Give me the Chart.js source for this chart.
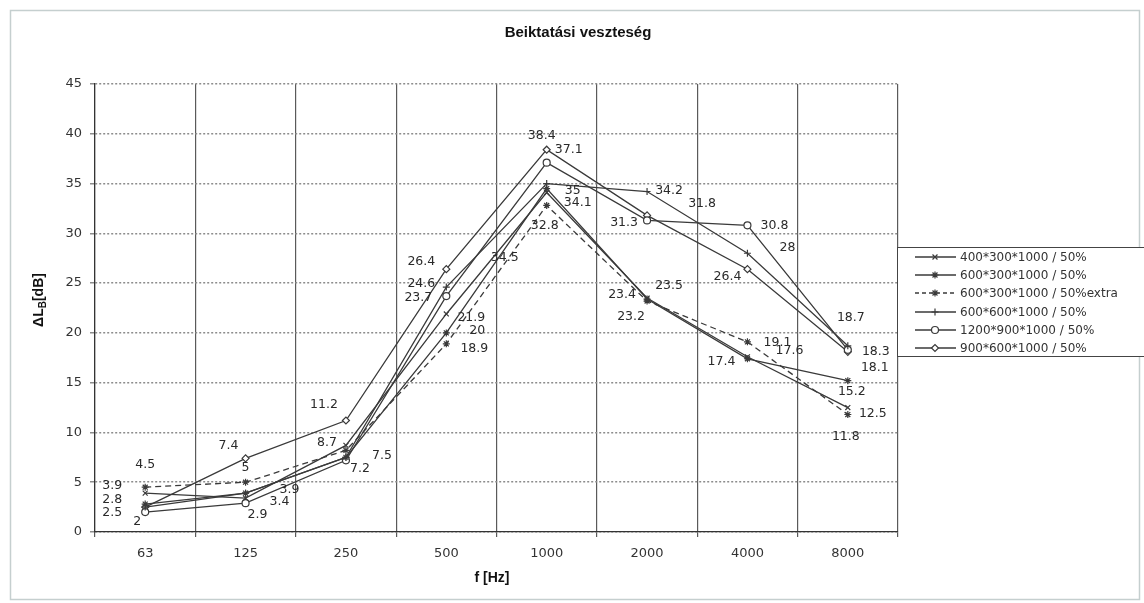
<!DOCTYPE html>
<html><head><meta charset="utf-8">
<script src="https://cdn.jsdelivr.net/npm/chart.js@4.4.1/dist/chart.umd.min.js"></script>
<style>html,body{margin:0;padding:0;background:#fff}canvas{display:block}</style>
</head><body>
<canvas id="c" width="1144" height="603"></canvas>
<script>
// ---- data ----
const categories = ['63','125','250','500','1000','2000','4000','8000'];
const seriesNames = ['400*300*1000 / 50%','600*300*1000 / 50%','600*300*1000 / 50%extra','600*600*1000 / 50%','1200*900*1000 / 50%','900*600*1000 / 50%'];
const s400x300   = [3.9, 3.4, 8.7, 21.9, 34.1, 23.5, 17.6, 12.5];
const s600x300   = [2.8, 3.9, 7.5, 20.0, 34.5, 23.4, 17.4, 15.2];
const s600x300ex = [4.5, 5.0, 8.2, 18.9, 32.8, 23.2, 19.1, 11.8];
const s600x600   = [2.5, 3.9, 7.5, 24.6, 35.0, 34.2, 28.0, 18.7];
const s1200x900  = [2.0, 2.9, 7.2, 23.7, 37.1, 31.3, 30.8, 18.3];
const s900x600   = [2.5, 7.4, 11.2, 26.4, 38.4, 31.8, 26.4, 18.1];
const yMin = 0, yMax = 45, yStep = 5;

// ---- styling (label offsets in px, null = no label) ----
const labelOffsets = [
  [[-33,-7],[34,4],[-19,-3],[25,4],[31,10],[22,-12],[42,-6],[25,6]],
  [[-33,-4],[44,-3],[36,-2],[31,-2],[-42,69],[-25,-4],[-26,3],[4,11]],
  [[0,-22],[0,-14],null,[28,5],[-2,20],[-16,16],[30,1],[-2,22]],
  [null,null,null,[-25,-3],[26,7],[22,-1],[40,-5],[3,-28]],
  [[-8,10],[12,12],[14,8],[-28,2],[22,-13],[-23,2],[27,0],[28,2]],
  [[-33,6],[-17,-13],[-22,-16],[-25,-7],[-5,-14],[55,-12],[-20,8],[27,16]]
];
const styles = [
  {pointStyle:'crossRot', dash:[]},
  {pointStyle:'star', dash:[]},
  {pointStyle:'star', dash:[6,4]},
  {pointStyle:'cross', dash:[]},
  {pointStyle:'circle', dash:[]},
  {pointStyle:'rectRot', dash:[]}
];
const allSeries = [s400x300, s600x300, s600x300ex, s600x600, s1200x900, s900x600];
const LINE = '#3a3a3a';

const datasets = allSeries.map((d,i)=>({
  label: seriesNames[i], data: d,
  borderColor: LINE, backgroundColor:'#fff', borderWidth:1.3, borderDash: styles[i].dash,
  pointStyle: styles[i].pointStyle, pointRadius:3.5, pointBorderWidth:1.2,
  pointBorderColor: LINE, pointBackgroundColor:'#fff', tension:0, fill:false
}));

const decor = {
  id:'decor',
  beforeDraw(chart){
    const ctx = chart.ctx;
    ctx.save();
    ctx.fillStyle='#fff'; ctx.fillRect(0,0,chart.width,chart.height);
    ctx.strokeStyle='#c5cfcf'; ctx.lineWidth=1.5;
    ctx.strokeRect(10.5,10.5,1129,589);
    ctx.restore();
  },
  afterDatasetsDraw(chart){
    const ctx = chart.ctx;
    ctx.save();
    ctx.font = '12.5px "DejaVu Sans", sans-serif';
    ctx.fillStyle = '#2a2a2a';
    ctx.textAlign = 'center'; ctx.textBaseline = 'middle';
    chart.data.datasets.forEach((ds,i)=>{
      const meta = chart.getDatasetMeta(i);
      meta.data.forEach((pt,j)=>{
        const off = labelOffsets[i][j];
        if(!off) return;
        ctx.fillText(String(ds.data[j]), pt.x+off[0], pt.y+off[1]);
      });
    });
    ctx.restore();
  },
  afterDraw(chart){
    const ctx = chart.ctx;
    ctx.save();
    // title
    ctx.fillStyle='#111';
    ctx.font='bold 15px "Liberation Sans", Arial, sans-serif';
    ctx.textAlign='center'; ctx.textBaseline='middle';
    ctx.fillText('Beiktatási veszteség', 578, 33);
    // x title
    ctx.font='bold 14px "Liberation Sans", Arial, sans-serif';
    ctx.fillText('f [Hz]', 492, 578);
    // y title
    ctx.translate(39, 300); ctx.rotate(-Math.PI/2);
    const f1='bold 14px "Liberation Sans", Arial, sans-serif', f2='bold 10px "Liberation Sans", Arial, sans-serif';
    ctx.font=f1; const w1=ctx.measureText('ΔL').width, w3=ctx.measureText('[dB]').width;
    ctx.font=f2; const w2=ctx.measureText('B').width;
    const tot=w1+w2+w3; let x=-tot/2;
    ctx.textAlign='left';
    ctx.font=f1; ctx.fillText('ΔL', x, 0); x+=w1;
    ctx.font=f2; ctx.fillText('B', x, 4); x+=w2;
    ctx.font=f1; ctx.fillText('[dB]', x, 0);
    ctx.restore();

    // legend
    ctx.save();
    ctx.fillStyle='#fff';
    ctx.fillRect(897,247,247,110);
    ctx.strokeStyle='#444'; ctx.lineWidth=1;
    ctx.strokeRect(897.5,247.5,250,109);
    const rows=[257,275,293,312,330,348];
    ctx.font='12px "DejaVu Sans", sans-serif';
    ctx.textAlign='left'; ctx.textBaseline='middle';
    chart.data.datasets.forEach((ds,i)=>{
      const y=rows[i];
      ctx.strokeStyle=LINE; ctx.lineWidth=1.3;
      ctx.setLineDash(styles[i].dash.length?[4,3]:[]);
      ctx.beginPath(); ctx.moveTo(915,y); ctx.lineTo(956,y); ctx.stroke();
      ctx.setLineDash([]);
      ctx.fillStyle='#fff'; ctx.strokeStyle=LINE; ctx.lineWidth=1.2;
      Chart.helpers.drawPoint(ctx,{pointStyle:styles[i].pointStyle, radius:3.5, borderWidth:1.2, rotation:0}, 935, y);
      ctx.fillStyle='#333';
      ctx.fillText(ds.label, 960, y+1);
    });
    ctx.restore();
  }
};

new Chart(document.getElementById('c'), {
  type:'line',
  data:{labels:categories, datasets},
  options:{
    responsive:false, animation:false, devicePixelRatio:1,
    layout:{padding:{left:0, top:84, right:246, bottom:0}},
    plugins:{legend:{display:false}, title:{display:false}, tooltip:{enabled:false}},
    scales:{
      x:{
        offset:true,
        grid:{offset:true, color:'#5a5a5a', lineWidth:1.2, tickLength:5},
        border:{color:'#333', width:1.2},
        ticks:{font:{family:'DejaVu Sans', size:13}, color:'#333', padding:9, maxRotation:0, autoSkip:false},
        afterFit:s=>{s.height=71;}
      },
      y:{
        min:yMin, max:yMax,
        ticks:{stepSize:yStep, font:{family:'DejaVu Sans', size:13}, color:'#333', padding:8},
        grid:{color:'#8c8c8c', lineWidth:1.5, tickLength:5},
        border:{dash:[2,2], color:'#333', width:1.2},
        afterFit:s=>{s.width=95;}
      }
    }
  },
  plugins:[decor]
});
</script>
</body></html>
